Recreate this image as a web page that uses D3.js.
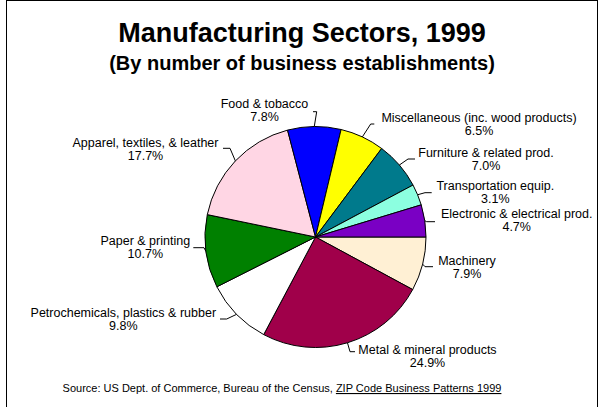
<!DOCTYPE html>
<html>
<head>
<meta charset="utf-8">
<script src="https://cdn.jsdelivr.net/npm/d3@7/dist/d3.min.js"></script>
<style>
  html, body { margin: 0; padding: 0; background: #fff; }
  svg { display: block; font-family: "Liberation Sans", Arial, sans-serif; }
</style>
</head>
<body>
<svg id="chart" width="600" height="407"></svg>
<script>
// ---- data (clockwise from 3 o'clock) ----
const categories = [
  "Machinery",
  "Metal & mineral products",
  "Petrochemicals, plastics & rubber",
  "Paper & printing",
  "Apparel, textiles, & leather",
  "Food & tobacco",
  "Miscellaneous (inc. wood products)",
  "Furniture & related prod.",
  "Transportation equip.",
  "Electronic & electrical prod."
];
const shares = [7.9, 24.9, 9.8, 10.7, 17.7, 7.8, 6.5, 7.0, 3.1, 4.7];
const colors = ["#FFF0D4", "#A0004A", "#FFFFFF", "#008000", "#FFD6E4",
                "#0000FF", "#FFFF00", "#007A8C", "#8CFFE0", "#7A00C4"];

const title = "Manufacturing Sectors, 1999";
const subtitle = "(By number of business establishments)";
const sourcePlain = "Source: US Dept. of Commerce, Bureau of the Census, ";
const sourceLink = "ZIP Code Business Patterns 1999";

// ---- layout (label text anchor + leader elbow/attach) ----
const labelLayout = [
  {tx: 467,   ty: 265,   ex: 425,   ey: 266.7, ax: 433,   ay: 266.7},
  {tx: 427.5, ty: 354.3, ex: 350,   ey: 351.7, ax: 355,   ay: 351.7},
  {tx: 123.3, ty: 316.7, ex: 226.7, ey: 319,   ax: 220,   ay: 319},
  {tx: 145.3, ty: 245,   ex: 204,   ey: 247.7, ax: 193.3, ay: 247.7},
  {tx: 145.5, ty: 146.7, ex: 230,   ey: 148.3, ax: 223,   ay: 148.3},
  {tx: 264.5, ty: 108.3, ex: 316.7, ey: 111.7, ax: 313,   ay: 111.7},
  {tx: 479,   ty: 121.7, ex: 370.7, ey: 124,   ax: 374.3, ay: 124},
  {tx: 486,   ty: 156.7, ex: 408,   ey: 159,   ax: 415,   ay: 159},
  {tx: 495.3, ty: 190,   ex: 425,   ey: 192.7, ax: 431.7, ay: 192.7},
  {tx: 516.7, ty: 218.3, ex: 426.7, ey: 221.7, ax: 435,   ay: 221.7}
];

const svg = d3.select("#chart");
const cx = 315.5, cy = 237, r = 110.5;

// frame
svg.append("rect")
  .attr("x", 6.5).attr("y", 0.5).attr("width", 591).attr("height", 430)
  .attr("fill", "#fff").attr("stroke", "#000").attr("stroke-width", 1);

// titles
svg.append("text").attr("x", 302).attr("y", 42.3)
  .attr("text-anchor", "middle").attr("font-weight", "bold")
  .attr("font-size", 27).text(title);
svg.append("text").attr("x", 302).attr("y", 70)
  .attr("text-anchor", "middle").attr("font-weight", "bold")
  .attr("font-size", 20).text(subtitle);

// pie
const data = categories.map((c, i) => ({name: c, value: shares[i], color: colors[i], lay: labelLayout[i]}));
const pie = d3.pie().value(d => d.value).sort(null)
  .startAngle(Math.PI / 2).endAngle(Math.PI / 2 + 2 * Math.PI);
const arcs = pie(data);
const arc = d3.arc().innerRadius(0).outerRadius(r);
const edge = d3.arc().innerRadius(r).outerRadius(r);

const g = svg.append("g").attr("transform", `translate(${cx},${cy})`);
g.selectAll("path.slice").data(arcs).join("path")
  .attr("class", "slice")
  .attr("d", arc)
  .attr("fill", d => d.data.color)
  .attr("stroke", "#000").attr("stroke-width", 1)
  .attr("stroke-linejoin", "round");

// leader lines
svg.selectAll("polyline.leader").data(arcs).join("polyline")
  .attr("class", "leader")
  .attr("fill", "none").attr("stroke", "#000").attr("stroke-width", 1)
  .attr("points", d => {
    const p = edge.centroid(d);
    const L = d.data.lay;
    return [[cx + p[0], cy + p[1]], [L.ex, L.ey], [L.ax, L.ay]].map(q => q.join(",")).join(" ");
  });

// labels
const lab = svg.selectAll("text.lab").data(arcs).join("text")
  .attr("class", "lab")
  .attr("text-anchor", "middle").attr("font-size", 12.5).attr("fill", "#000");
lab.append("tspan").attr("x", d => d.data.lay.tx).attr("y", d => d.data.lay.ty)
  .text(d => d.data.name);
lab.append("tspan").attr("x", d => d.data.lay.tx).attr("y", d => d.data.lay.ty + 13)
  .text(d => d3.format(".1f")(d.data.value) + "%");

// source
const src = svg.append("text").attr("x", 282).attr("y", 392)
  .attr("text-anchor", "middle").attr("font-size", 11);
src.append("tspan").text(sourcePlain);
src.append("tspan").attr("text-decoration", "underline").text(sourceLink);
</script>
</body>
</html>
